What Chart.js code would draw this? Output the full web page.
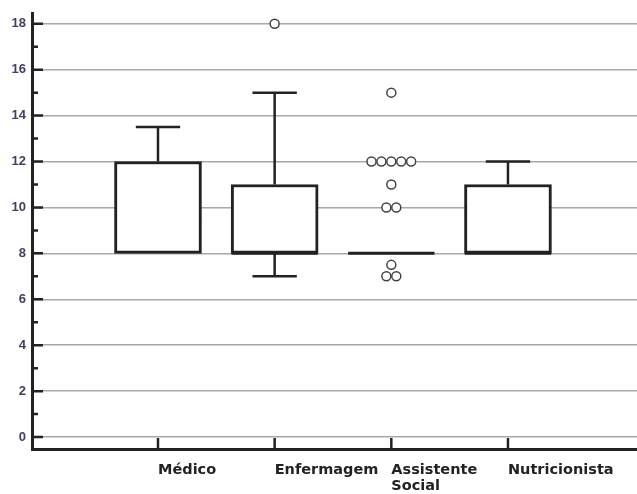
<!DOCTYPE html>
<html>
<head>
<meta charset="utf-8">
<script src="https://cdn.jsdelivr.net/npm/chart.js@4.4.0/dist/chart.umd.min.js"></script>
<style>
  html, body { margin: 0; padding: 0; background: #fff; overflow: hidden; }
  #wrap { width: 637px; height: 494px; position: relative; }
</style>
</head>
<body>
<div id="wrap"><canvas id="chart"></canvas></div>
<script>
// Boxplot values
const categories = ['Médico', 'Enfermagem', ['Assistente', 'Social'], 'Nutricionista'];
const catPos = [1, 2, 3, 4];
const q1 = [8, 8, 8, 8];
const median = [9.5, 8, 8, 8];
const q3 = [12, 11, 8, 11];
const whiskerLow = [8, 7, 8, 8];
const whiskerHigh = [13.5, 15, 8, 12];
const outliers = [[], [18], [15, 12, 12, 12, 12, 12, 11, 10, 10, 7.5, 7, 7], []];
const yTicks = [0, 2, 4, 6, 8, 10, 12, 14, 16, 18];
const yMinorTicks = [1, 3, 5, 7, 9, 11, 13, 15, 17];

const BOX_HALF = 0.37;
const CAP_HALF = 0.19;
const DODGE = 0.085;
const INK = '#222';

// median segments and whiskers as broken line paths
const medianPts = [];
const whiskerPts = [];
catPos.forEach((x, i) => {
  medianPts.push({ x: x - BOX_HALF, y: median[i] }, { x: x + BOX_HALF, y: median[i] }, { x: null, y: null });
  if (whiskerHigh[i] > q3[i]) {
    whiskerPts.push({ x: x, y: q3[i] }, { x: x, y: whiskerHigh[i] }, { x: null, y: null });
    whiskerPts.push({ x: x - CAP_HALF, y: whiskerHigh[i] }, { x: x + CAP_HALF, y: whiskerHigh[i] }, { x: null, y: null });
  }
  if (whiskerLow[i] < q1[i]) {
    whiskerPts.push({ x: x, y: q1[i] }, { x: x, y: whiskerLow[i] }, { x: null, y: null });
    whiskerPts.push({ x: x - CAP_HALF, y: whiskerLow[i] }, { x: x + CAP_HALF, y: whiskerLow[i] }, { x: null, y: null });
  }
});

// outlier circles, ties spread sideways
const outlierPts = [];
catPos.forEach((x, i) => {
  const counts = {};
  outliers[i].forEach(v => { counts[v] = (counts[v] || 0) + 1; });
  Object.keys(counts).forEach(k => {
    const n = counts[k];
    for (let j = 0; j < n; j++) {
      outlierPts.push({ x: x + (j - (n - 1) / 2) * DODGE, y: parseFloat(k) });
    }
  });
});

const boxData = catPos.map((x, i) => ({ x: x, y: [q1[i], q3[i]] }));

// inward tick marks on both axes
const innerTicks = {
  id: 'innerTicks',
  afterDraw(chart) {
    const { ctx, chartArea, scales } = chart;
    ctx.save();
    ctx.strokeStyle = INK;
    ctx.lineWidth = 2.5;
    ctx.beginPath();
    yTicks.forEach(v => {
      const py = scales.y.getPixelForValue(v);
      ctx.moveTo(chartArea.left, py);
      ctx.lineTo(chartArea.left + 11, py);
    });
    yMinorTicks.forEach(v => {
      const py = scales.y.getPixelForValue(v);
      ctx.moveTo(chartArea.left, py);
      ctx.lineTo(chartArea.left + 6, py);
    });
    catPos.forEach(v => {
      const px = scales.x.getPixelForValue(v);
      ctx.moveTo(px, chartArea.bottom);
      ctx.lineTo(px, chartArea.bottom - 11);
    });
    ctx.stroke();
    ctx.restore();
  }
};

new Chart(document.getElementById('chart'), {
  type: 'scatter',
  data: {
    datasets: [
      {
        type: 'bar',
        data: boxData,
        backgroundColor: '#fff',
        borderColor: INK,
        borderWidth: 3,
        borderSkipped: false,
        barThickness: 87
      },
      {
        data: medianPts,
        showLine: true,
        spanGaps: false,
        borderColor: INK,
        borderWidth: 3,
        pointRadius: 0
      },
      {
        data: whiskerPts,
        showLine: true,
        spanGaps: false,
        borderColor: INK,
        borderWidth: 2.5,
        pointRadius: 0
      },
      {
        data: outlierPts,
        pointRadius: 4.5,
        pointBorderWidth: 1.5,
        pointBorderColor: '#444',
        pointBackgroundColor: '#fff'
      }
    ]
  },
  options: {
    responsive: true,
    maintainAspectRatio: false,
    animation: false,
    layout: { autoPadding: false, padding: { top: 12, right: 0, left: 0, bottom: 0 } },
    plugins: { legend: { display: false }, tooltip: { enabled: false } },
    scales: {
      x: {
        type: 'linear',
        offset: false,
        min: -0.08,
        max: 5.106,
        afterBuildTicks: s => { s.ticks = catPos.map(v => ({ value: v })); },
        afterFit: s => { s.height = 45; s.paddingLeft = 0; s.paddingRight = 0; },
        border: { color: INK, width: 3 },
        grid: { display: false, drawTicks: false, offset: false },
        ticks: {
          align: 'start',
          padding: 13,
          maxRotation: 0,
          autoSkip: false,
          color: INK,
          font: { family: 'DejaVu Sans', size: 14.5, weight: 'bold', lineHeight: 1.1 },
          callback: (v) => categories[catPos.indexOf(v)]
        }
      },
      y: {
        min: -0.52,
        max: 18.434,
        afterBuildTicks: s => { s.ticks = yTicks.map(v => ({ value: v })); },
        afterFit: s => { s.width = 32; },
        border: { color: INK, width: 3 },
        grid: { color: '#a8a8a8', lineWidth: 1.5, drawTicks: false },
        ticks: {
          padding: 6,
          color: '#404060',
          font: { family: 'Liberation Sans', size: 13, weight: 'bold' }
        }
      }
    }
  },
  plugins: [innerTicks]
});
</script>
</body>
</html>
